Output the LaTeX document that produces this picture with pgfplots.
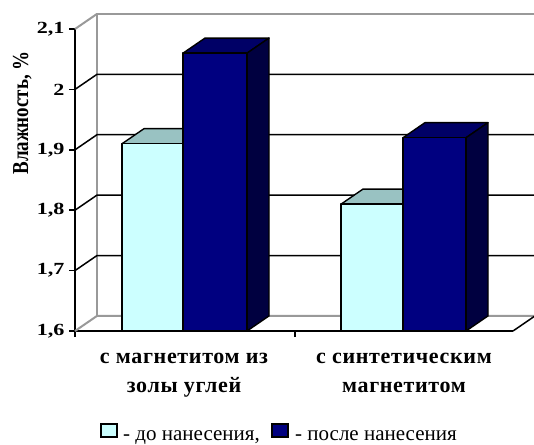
\documentclass[border=0pt]{standalone}
\usepackage{fontspec}
\setmainfont{Liberation Serif}
\usepackage{pgfplots}
\pgfplotsset{compat=1.18}

\definecolor{before}{HTML}{CCFFFF}
\definecolor{beforetop}{HTML}{99C2C2}
\definecolor{beforeside}{HTML}{7FA3A3}
\definecolor{after}{HTML}{000080}
\definecolor{aftertop}{HTML}{000066}
\definecolor{afterside}{HTML}{000040}
\definecolor{wallgray}{HTML}{999999}

% depth of the pseudo-3D boxes (x in axis units, y in percent)
\newcommand\depthx{22}
\newcommand\depthy{0.025}

% \barthreed{left}{right}{value}{front colour}{top colour}{side colour}
\newcommand\barthreed[6]{%
  \pgfmathsetmacro\bxa{#1+\depthx}%
  \pgfmathsetmacro\bxb{#2+\depthx}%
  \pgfmathsetmacro\bvt{#3+\depthy}%
  \pgfmathsetmacro\bvb{1.6+\depthy}%
  \edef\barcmds{%
    \noexpand\addplot[fill=#5,draw=black,line width=1.4pt,line join=round,forget plot]
      coordinates {(#1,#3) (#2,#3) (\bxb,\bvt) (\bxa,\bvt)} -- cycle;
    \noexpand\addplot[fill=#6,draw=black,line width=1.4pt,line join=round,forget plot]
      coordinates {(#2,1.6) (\bxb,\bvb) (\bxb,\bvt) (#2,#3)} -- cycle;
    \noexpand\addplot[fill=#4,draw=black,line width=1.4pt,line join=round,forget plot]
      coordinates {(#1,1.6) (#2,1.6) (#2,#3) (#1,#3)} -- cycle;
  }\barcmds}

\begin{document}
\begin{tikzpicture}
\begin{axis}[
  at={(75pt,-331pt)}, anchor=south west,
  scale only axis, width=438pt, height=302pt,
  xmin=75, xmax=513, ymin=1.6, ymax=2.1,
  enlargelimits=false, clip=false,
  axis lines*=left,
  axis line style={line width=1.5pt, black},
  tick style={line width=1.5pt, black},
  tick align=outside, major tick length=6pt,
  xtick={75,295}, xticklabels={},
  ytick={1.6,1.7,1.8,1.9,2.0,2.1},
  yticklabel={\pgfmathprintnumber[assume math mode=true,use comma,fixed,precision=1]{\tick}},
  yticklabel style={font=\fontsize{17}{17}\selectfont\bfseries\addfontfeature{FakeStretch=1.3}, xshift=-1pt},
]
% walls and floor
\addplot[wallgray, line width=2pt, forget plot] coordinates {(75,1.6) (97,1.625) (535,1.625)};
\addplot[wallgray, line width=2pt, forget plot] coordinates {(97,1.625) (97,2.125) (535,2.125)};
\addplot[wallgray, line width=2pt, forget plot] coordinates {(75,2.1) (97,2.125)};
\addplot[black, line width=1.5pt, forget plot] coordinates {(513,1.6) (535,1.625)};
% gridlines on the back wall
\addplot[black, line width=1.5pt, forget plot] coordinates {(75,1.7) (97,1.725) (535,1.725)};
\addplot[black, line width=1.5pt, forget plot] coordinates {(75,1.8) (97,1.825) (535,1.825)};
\addplot[black, line width=1.5pt, forget plot] coordinates {(75,1.9) (97,1.925) (535,1.925)};
\addplot[black, line width=1.5pt, forget plot] coordinates {(75,2.0) (97,2.025) (535,2.025)};

% bars: before / after coating
\barthreed{122}{183}{1.91}{before}{beforetop}{beforeside}
\barthreed{183}{247}{2.06}{after}{aftertop}{afterside}
\barthreed{341}{403}{1.81}{before}{beforetop}{beforeside}
\barthreed{403}{466}{1.92}{after}{aftertop}{afterside}

% category names
\begin{scope}[every node/.style={font=\fontsize{22}{22}\selectfont\bfseries\addfontfeature{LetterSpace=3}, inner sep=0pt, anchor=base}]
\node at (axis cs:184,1.6) [yshift=-32pt] {с магнетитом из};
\node at (axis cs:184,1.6) [yshift=-61pt] {золы углей};
\node at (axis cs:404,1.6) [yshift=-32pt] {с синтетическим};
\node at (axis cs:404,1.6) [yshift=-61pt] {магнетитом};
\end{scope}

% axis title
\node[rotate=90, anchor=base, inner sep=0pt, font=\fontsize{19}{19}\selectfont\bfseries]
  at (axis cs:28,1.961) {\scalebox{1}[1.2]{Влажность, \%}};

% legend
\draw[black, line width=1.3pt, fill=before] (axis cs:101,1.6) ++(0pt,-93pt) rectangle ++(16pt,-13pt);
\draw[black, line width=1.3pt, fill=after] (axis cs:272,1.6) ++(0pt,-93pt) rectangle ++(16pt,-13pt);
\begin{scope}[every node/.style={font=\fontsize{21}{21}\selectfont, inner sep=0pt, anchor=base west}]
\node at (axis cs:123,1.6) [yshift=-109pt] {- до нанесения,};
\node at (axis cs:295,1.6) [yshift=-109pt] {- после нанесения};
\end{scope}
\end{axis}
\pgfresetboundingbox
\path[use as bounding box] (0,0) rectangle (534pt,-444pt);
\end{tikzpicture}
\end{document}
